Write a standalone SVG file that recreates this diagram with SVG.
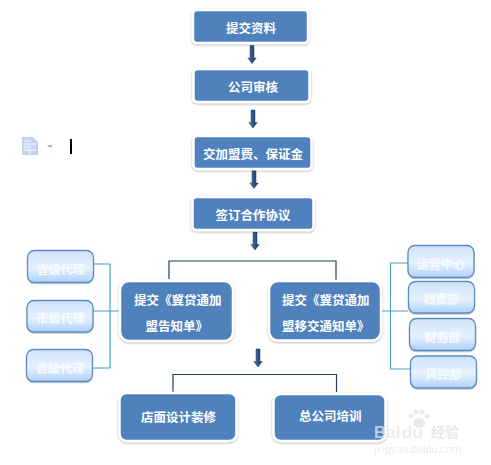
<svg xmlns="http://www.w3.org/2000/svg" width="491" height="465" viewBox="0 0 491 465">
<style>
text{font-family:"Noto Sans CJK SC","Liberation Sans",sans-serif}
.m{fill:#4f81bd;stroke:#fff;stroke-width:2.5;filter:url(#s)}
.l{fill:url(#g);stroke:#5c8bc2;stroke-width:1.3;filter:url(#s2)}
.t{fill:#fff;font-size:12.500px;font-weight:700}
.u{fill:#f8fbff;font-size:12px;font-weight:700;text-anchor:middle}
.c1{fill:none;stroke:#1f3f66;stroke-width:1.2}
.c2{fill:none;stroke:#3fa6bf;stroke-width:1.2}
.c3{fill:none;stroke:#4f9dba;stroke-width:1.2}
.w{fill:#e6e6e6;font-family:"Liberation Sans",sans-serif}
</style>
<defs>
<linearGradient id="g" x1="0" y1="0" x2="0" y2="1"><stop offset="0" stop-color="#cfe2fb"/><stop offset=".55" stop-color="#e6f1fe"/><stop offset="1" stop-color="#aecffb"/></linearGradient>
<linearGradient id="ag" x1="0" y1="0" x2="1" y2="0"><stop offset="0" stop-color="#5c82ae"/><stop offset=".5" stop-color="#2c5586"/><stop offset="1" stop-color="#1c3c66"/></linearGradient>
<filter id="s" x="-10%" y="-15%" width="120%" height="130%"><feDropShadow dx="0" dy="1" stdDeviation="1" flood-color="#000" flood-opacity=".3"/></filter>
<filter id="s2" x="-10%" y="-15%" width="120%" height="130%"><feDropShadow dx="0" dy="1" stdDeviation=".6" flood-color="#000" flood-opacity=".25"/></filter>
<path id="a" d="M-2-9H2V3.500H4.200L0 9-4.200 3.500H-2Z" fill="url(#ag)" stroke="#1f3f66" stroke-width=".5"/>
</defs>

<g id="connectors">
<path class="c1" d="M169 279V261H336V282"/>
<path class="c1" d="M173 392V374.500H336.500V392"/>
<path class="c2" d="M94 264H110V368H93M93 311H120"/>
<path class="c3" d="M408 263H390.500V369H410M381 311H408"/>
<use href="#a" x="252" y="54.500"/>
<use href="#a" x="253" y="119"/>
<use href="#a" x="254" y="179.500"/>
<use href="#a" x="255" y="241"/>
<use href="#a" x="258" y="358"/>
</g>

<g id="n1"><rect class="m" x="193" y="10" width="115" height="33" rx="4"/><text class="t" x="226" y="33">提交资料</text></g>
<g id="n2"><rect class="m" x="193.500" y="69" width="116" height="33" rx="4"/><text class="t" x="228" y="92">公司审核</text></g>
<g id="n3"><rect class="m" x="193.500" y="136" width="118" height="33" rx="4"/><text class="t" x="203" y="159">交加盟费、保证金</text></g>
<g id="n4"><rect class="m" x="192.500" y="197" width="121" height="33" rx="4"/><text class="t" x="215.500" y="220">签订合作协议</text></g>

<g id="n5"><rect class="l" x="27.500" y="250.500" width="66" height="32" rx="7"/><text class="u" x="60.500" y="273.500">省级代理</text></g>
<g id="n6"><rect class="l" x="27" y="300.500" width="66" height="31.500" rx="7"/><text class="u" x="60.500" y="322.500">市级代理</text></g>
<g id="n7"><rect class="l" x="26.500" y="349.500" width="66" height="32" rx="7"/><text class="u" x="60" y="372.500">县级代理</text></g>

<g id="n8"><rect class="m" x="120" y="281" width="113" height="60" rx="9"/><text class="t" x="134" y="305">提交《冀贷通加</text><text class="t" x="145.500" y="331">盟告知单》</text></g>
<g id="n9"><rect class="m" x="269" y="281" width="112" height="59.500" rx="9"/><text class="t" x="282" y="305">提交《冀贷通加</text><text class="t" x="282" y="331">盟移交通知单》</text></g>

<g id="n10"><rect class="l" x="408" y="245.500" width="66" height="32" rx="7"/><text class="u" x="441" y="268.500">运营中心</text></g>
<g id="n11"><rect class="l" x="408.500" y="281.500" width="66" height="31.500" rx="7"/><text class="u" x="441.500" y="303.500">档案部</text></g>
<g id="n12"><rect class="l" x="409.500" y="318.500" width="66" height="32" rx="7"/><text class="u" x="442.500" y="341.500">财务部</text></g>
<g id="n13"><rect class="l" x="410.500" y="356" width="66" height="32" rx="7"/><text class="u" x="443.500" y="378.500">风控部</text></g>

<g id="n14"><rect class="m" x="119.500" y="393" width="117" height="48" rx="7"/><text class="t" x="141" y="422">店面设计装修</text></g>
<g id="n15"><rect class="m" x="273.500" y="394" width="112" height="47" rx="7"/><text class="t" x="299" y="421">总公司培训</text></g>

<g id="icon">
<path d="M22 137H33L38 142V155H22Z" fill="#c3d5ee"/>
<path d="M24 141H31M24 144H36M24 147H31M24 150H36M30 150V154" stroke="#fff" fill="none"/>
<path d="M47 145H53L50 148Z" fill="#b5b5b5"/>
<rect x="70" y="139" width="2" height="15" fill="#000"/>
</g>

<g id="watermark" opacity=".75">
<g fill="#e4e4e4"><circle cx="411" cy="416" r="2.500"/><circle cx="416" cy="412" r="2.500"/><circle cx="422" cy="412" r="2.500"/><circle cx="427" cy="416" r="2.500"/><ellipse cx="419" cy="423" rx="6" ry="5"/></g>
<text class="w" x="374" y="438" font-size="17" font-weight="700">Bai</text>
<text class="w" x="402" y="438" font-size="17" font-weight="700">du</text>
<text x="431" y="437" font-size="14" fill="#e0e0e0" font-weight="700">经验</text>
<text class="w" x="374" y="453" font-size="10.500" textLength="87" lengthAdjust="spacingAndGlyphs">jingyan.baidu.com</text>
</g>
</svg>
